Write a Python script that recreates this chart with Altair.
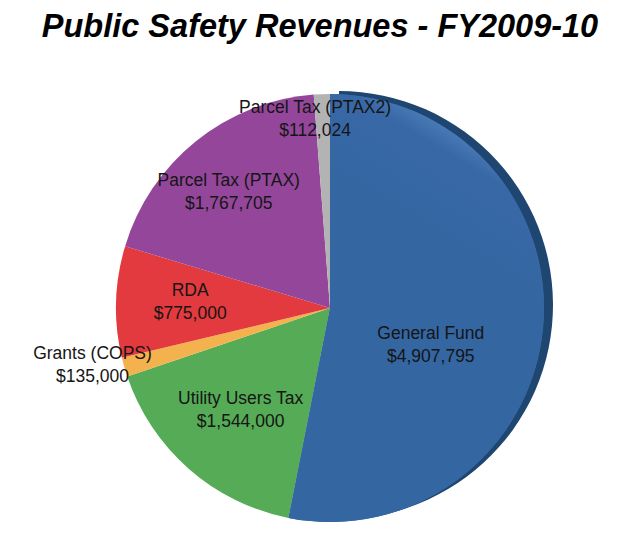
import altair as alt
import pandas as pd

# ---- data ----
categories = ["General Fund", "Utility Users Tax", "Grants (COPS)", "RDA",
              "Parcel Tax (PTAX)", "Parcel Tax (PTAX2)"]
values = [4907795, 1544000, 135000, 775000, 1767705, 112024]
value_labels = ["$4,907,795", "$1,544,000", "$135,000", "$775,000",
                "$1,767,705", "$112,024"]

# ---- styles / layout ----
colors = ["#3667a4", "#55ab56", "#f4b24e", "#e23a3e", "#94479a", "#b3b3b3"]
rim_color = "#1f4670"
label_radius = [107, 135, 244, 140, 155, 191]
label_nudge_deg = [14, 0.2, 2.8, 1.2, -2, -2.3]
CX, CY, R = 322, 250, 214

df = pd.DataFrame({
    "category": categories,
    "value": values,
    "order": list(range(len(categories))),
    "label": [c + "\n" + v for c, v in zip(categories, value_labels)],
    "lr": label_radius,
    "nudge": label_nudge_deg,
})

color_scale = alt.Scale(domain=categories, range=colors)
base = alt.Chart(df)

theta = alt.Theta("value:Q", stack=True)
order = alt.Order("order:Q")
is_gf = alt.datum.category == "General Fund"

rim = base.mark_arc(radius=R).encode(
    theta=theta,
    order=order,
    color=alt.value(rim_color),
    opacity=alt.condition(is_gf, alt.value(1), alt.value(0)),
    x=alt.value(CX + 9),
    y=alt.value(CY - 3),
)

pie = base.mark_arc(radius=R).encode(
    theta=theta,
    order=order,
    color=alt.Color("category:N", scale=color_scale, legend=None),
    x=alt.value(CX),
    y=alt.value(CY),
)

highlight = base.mark_arc(
    radius=R,
    color=alt.Gradient(
        gradient="linear",
        stops=[alt.GradientStop(color="#84b2e2", offset=0),
               alt.GradientStop(color="#5a8ac5", offset=0.25),
               alt.GradientStop(color="#3869a6", offset=0.5),
               alt.GradientStop(color="#3466a2", offset=1)],
        x1=0.9, y1=0.0, x2=0.75, y2=0.42,
    ),
).encode(
    theta=theta,
    order=order,
    opacity=alt.condition(is_gf, alt.value(1), alt.value(0)),
    x=alt.value(CX),
    y=alt.value(CY),
)

lab_base = base.transform_window(
    cum="sum(value)", sort=[alt.SortField("order")], frame=[None, 0]
).transform_joinaggregate(
    total="sum(value)"
).transform_calculate(
    mid="(datum.cum - datum.value/2)/datum.total*2*PI + datum.nudge*PI/180"
)

labels = lab_base.mark_text(
    lineBreak="\n", fontSize=17.5, font="Liberation Sans", lineHeight=23,
    color="#151515", dy=-10,
).encode(
    theta=alt.Theta("mid:Q", scale=None, stack=False),
    radius=alt.Radius("lr:Q", scale=None),
    text=alt.Text("label:N"),
    x=alt.value(CX),
    y=alt.value(CY),
)

chart = alt.layer(rim, pie, highlight, labels).resolve_scale(
    theta="independent", radius="independent"
).properties(
    width=624, height=500,
    padding={"top": 50, "left": 0, "right": 0, "bottom": 0},
    autosize="none",
    background="white",
    title=alt.TitleParams(
        "Public Safety Revenues - FY2009-10",
        font="Liberation Sans", fontSize=32.5, fontStyle="italic",
        fontWeight="bold", color="black", anchor="middle", offset=15,
    ),
).configure_view(stroke=None)

chart.save("out.html", embed_options={"renderer": "svg", "actions": False})
